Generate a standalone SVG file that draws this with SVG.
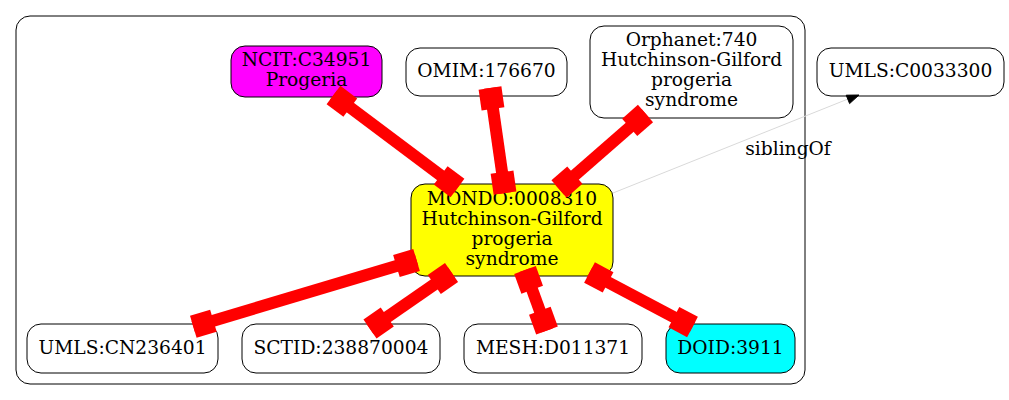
<svg xmlns="http://www.w3.org/2000/svg" width="1009" height="400" viewBox="0 0 1009 400">
<style>
.node rect{stroke:#000;stroke-width:1}
text{font-family:"DejaVu Serif","Liberation Serif",serif;font-size:18.67px;fill:#000;text-anchor:middle}
.tee rect{fill:#f00}
</style>
<rect width="1009" height="400" fill="#fff"/>
<g id="cluster"><rect x="16" y="16" width="789" height="368" rx="14" fill="none" stroke="#000" stroke-width="1"/></g>
<g id="nodes">
<g id="ncit" class="node"><rect x="231" y="46" width="151" height="51" rx="14" fill="#ff00ff"/><text x="306.5" y="66">NCIT:C34951</text><text x="306.5" y="86">Progeria</text></g>
<g id="omim" class="node"><rect x="406" y="48" width="161" height="48" rx="14" fill="#fff"/><text x="486.5" y="77">OMIM:176670</text></g>
<g id="orphanet" class="node"><rect x="590" y="26" width="203" height="92" rx="14" fill="#fff"/><text x="691.5" y="46">Orphanet:740</text><text x="691.5" y="66">Hutchinson-Gilford</text><text x="691.5" y="86">progeria</text><text x="691.5" y="106">syndrome</text></g>
<g id="umls_c0033300" class="node"><rect x="817" y="48" width="187" height="48" rx="14" fill="#fff"/><text x="910.5" y="77">UMLS:C0033300</text></g>
<g id="mondo" class="node"><rect x="411" y="184" width="202" height="92" rx="14" fill="#ffff00"/><text x="512" y="205">MONDO:0008310</text><text x="512" y="225">Hutchinson-Gilford</text><text x="512" y="245">progeria</text><text x="512" y="265">syndrome</text></g>
<g id="umls_cn236401" class="node"><rect x="27" y="324" width="191" height="49" rx="14" fill="#fff"/><text x="122.5" y="354">UMLS:CN236401</text></g>
<g id="sctid" class="node"><rect x="242" y="324" width="198" height="49" rx="14" fill="#fff"/><text x="341" y="354">SCTID:238870004</text></g>
<g id="mesh" class="node"><rect x="464" y="324" width="178" height="49" rx="14" fill="#fff"/><text x="553" y="354">MESH:D011371</text></g>
<g id="doid" class="node"><rect x="666" y="324" width="129" height="49" rx="14" fill="#00ffff"/><text x="730.5" y="354">DOID:3911</text></g>
</g>
<g id="connectors">
<g class="tee" transform="translate(333.5,95) rotate(36.87)"><rect x="0" y="-6" width="155" height="12"/><rect x="0" y="-11.5" width="21" height="23"/><rect x="134" y="-11.5" width="21" height="23"/></g>
<g class="tee" transform="translate(490,88) rotate(81.87)"><rect x="0" y="-6" width="106.1" height="12"/><rect x="0" y="-11.5" width="21" height="23"/><rect x="85.1" y="-11.5" width="21" height="23"/></g>
<g class="tee" transform="translate(645.5,113.5) rotate(138.89)"><rect x="0" y="-6" width="114.8" height="12"/><rect x="0" y="-11.5" width="21" height="23"/><rect x="93.8" y="-11.5" width="21" height="23"/></g>
<g class="tee" transform="translate(193.3,326.7) rotate(-16.64)"><rect x="0" y="-6" width="233" height="12"/><rect x="0" y="-11.5" width="21" height="23"/><rect x="212" y="-11.5" width="21" height="23"/></g>
<g class="tee" transform="translate(370,329) rotate(-34.73)"><rect x="0" y="-6" width="99.2" height="12"/><rect x="0" y="-11.5" width="21" height="23"/><rect x="78.2" y="-11.5" width="21" height="23"/></g>
<g class="tee" transform="translate(547,330.5) rotate(-109.98)"><rect x="0" y="-6" width="64.4" height="12"/><rect x="0" y="-11.5" width="21" height="23"/><rect x="43.4" y="-11.5" width="21" height="23"/></g>
<g class="tee" transform="translate(692.5,327) rotate(-152.12)"><rect x="0" y="-6" width="116.5" height="12"/><rect x="0" y="-11.5" width="21" height="23"/><rect x="95.5" y="-11.5" width="21" height="23"/></g>
<g id="sibling"><line x1="613" y1="193" x2="848" y2="99" stroke="#d9d9d9" stroke-width="1"/><polygon points="859,95 846.2,95.2 849.6,103.6" fill="#000" stroke="#000" stroke-width="1"/><text x="788" y="155">siblingOf</text></g>
</g>
</svg>
